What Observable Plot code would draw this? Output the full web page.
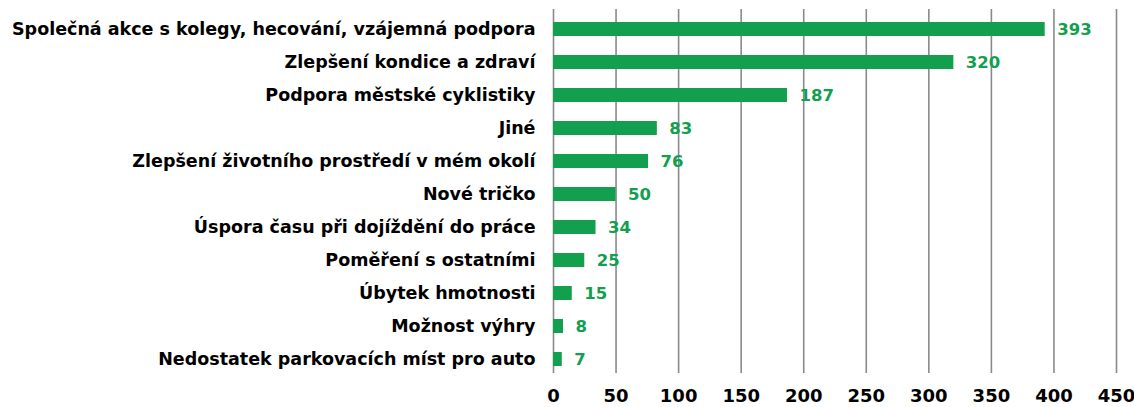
<!DOCTYPE html>
<html>
<head>
<meta charset="utf-8">
<script src="https://cdn.jsdelivr.net/npm/d3@7"></script>
<script src="https://cdn.jsdelivr.net/npm/@observablehq/plot@0.6"></script>
<style>
  html, body { margin: 0; padding: 0; background: #fff; }
  #chart svg { display: block; }
  #chart svg g[aria-label="x-axis tick label"] text { font-size: 18px; }
</style>
</head>
<body>
<div id="chart"></div>
<script>
const categories = [
  "Společná akce s kolegy, hecování, vzájemná podpora",
  "Zlepšení kondice a zdraví",
  "Podpora městské cyklistiky",
  "Jiné",
  "Zlepšení životního prostředí v mém okolí",
  "Nové tričko",
  "Úspora času při dojíždění do práce",
  "Poměření s ostatními",
  "Úbytek hmotnosti",
  "Možnost výhry",
  "Nedostatek parkovacích míst pro auto"
];
const values = [393, 320, 187, 83, 76, 50, 34, 25, 15, 8, 7];
const xTicks = [0, 50, 100, 150, 200, 250, 300, 350, 400, 450];

const data = categories.map((c, i) => ({category: c, value: values[i]}));
const green = "#12a04f";

const chart = Plot.plot({
  width: 1134,
  height: 407,
  marginLeft: 553,
  marginRight: 18,
  marginTop: 9,
  marginBottom: 34,
  style: {fontFamily: "'DejaVu Sans', sans-serif", fontSize: "17.5px", fontWeight: "bold", color: "#000", background: "#fff"},
  x: {domain: [0, 450], ticks: xTicks, tickSize: 0, tickPadding: 16, label: null},
  y: {domain: categories, tickSize: 0, tickPadding: 18, label: null, paddingInner: 0.577, paddingOuter: 0.287, align: 0.63},
  marks: [
    Plot.ruleX(xTicks, {stroke: "#8a8a8a", strokeWidth: 1.6}),
    Plot.barX(data, {x: "value", y: "category", fill: green}),
    Plot.text(data, {x: "value", y: "category", text: d => String(d.value), dx: 12, textAnchor: "start", fill: green, fontSize: 16.5, fontWeight: "bold"})
  ]
});
document.getElementById("chart").appendChild(chart);
</script>
</body>
</html>
